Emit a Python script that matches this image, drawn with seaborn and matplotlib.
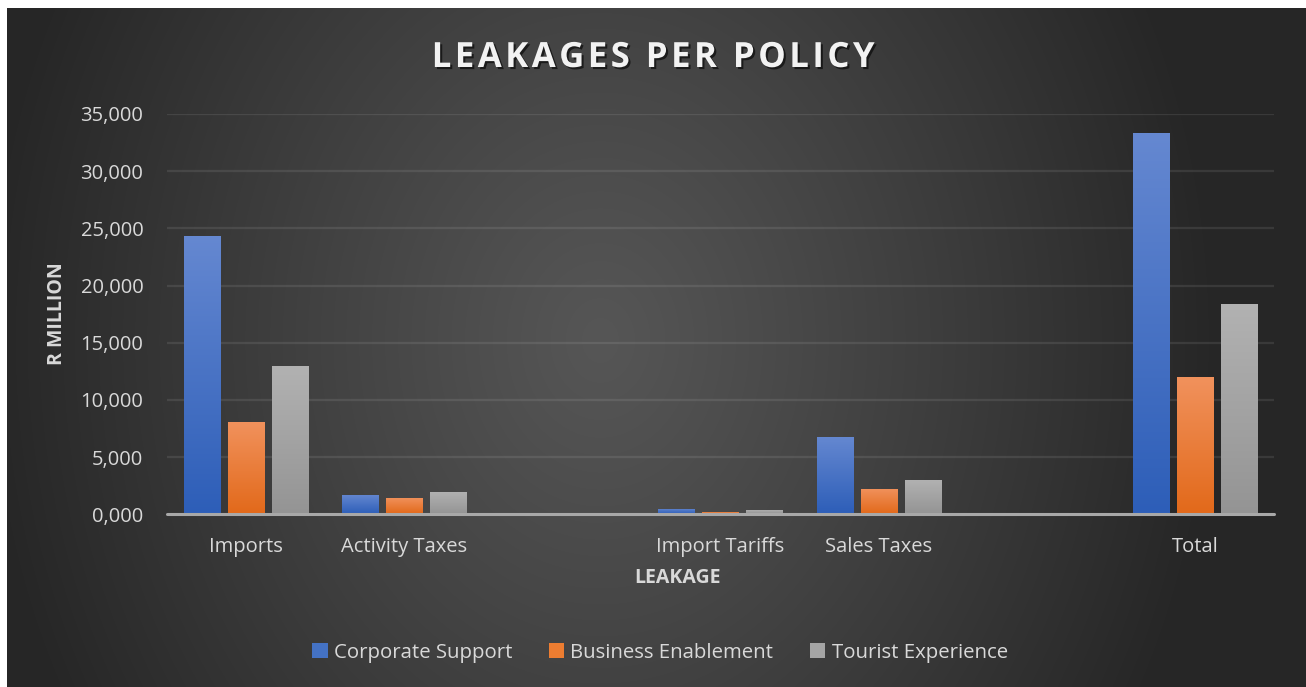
import numpy as np
import pandas as pd
import matplotlib
matplotlib.use("Agg")
import matplotlib.pyplot as plt
import matplotlib.patheffects as pe
from matplotlib.colors import LinearSegmentedColormap
from matplotlib.patches import Patch
import seaborn as sns

# ---- data (R million) ----
categories = ["Imports", "Activity Taxes", "Import Tariffs", "Sales Taxes", "Total"]
corporate_support = [24300, 1690, 460, 6760, 33300]
business_enablement = [8070, 1420, 230, 2210, 12000]
tourist_experience = [12960, 1950, 380, 3000, 18380]
policies = ["Corporate Support", "Business Enablement", "Tourist Experience"]
# category slots on the x axis, blank slots keep the spacing between groups
slot_order = ["Imports", "Activity Taxes", "", "Import Tariffs", "Sales Taxes", " ", "Total"]
ytick_values = [0, 5000, 10000, 15000, 20000, 25000, 30000, 35000]
ytick_labels = ["0,000", "5,000", "10,000", "15,000", "20,000", "25,000", "30,000", "35,000"]
title = "LEAKAGES PER POLICY"

df = pd.DataFrame({
    "Leakage": categories * 3,
    "Policy": [p for p in policies for _ in categories],
    "Value": corporate_support + business_enablement + tourist_experience,
})

base_colors = ["#4472c4", "#ed7d31", "#a5a5a5"]
grad_colors = [("#2d5eb8", "#6588d1"), ("#e2691a", "#f1925d"), ("#949494", "#b2b2b2")]

sns.set_theme(style="white")
plt.rcParams["font.family"] = ["Open Sans", "DejaVu Sans"]

W, H = 1306, 687
fig = plt.figure(figsize=(W / 100, H / 100), dpi=100, facecolor="white")

# dark radial-gradient backdrop
bg = fig.add_axes([7 / W, 0, (W - 7) / W, (H - 8) / H], zorder=-10)
bg.set_facecolor("#262626")
yy, xx = np.mgrid[8:H, 7:W]
r = np.sqrt(((xx - 600) / 620.0) ** 2 + ((yy - 340) / 760.0) ** 2)
r = np.clip(r, 0, 1)
level = (86 - (86 - 38) * r ** 1.1) / 255.0
img = np.dstack([level, level, level])
bg.imshow(img, aspect="auto", interpolation="bilinear", extent=[0, 1, 0, 1])
bg.set_xlim(0, 1)
bg.set_ylim(0, 1)
bg.set_axis_off()

# plot area
x0, x1 = 167, 1274
y_top, y_base = 114, 514.3
ax = fig.add_axes([x0 / W, (H - y_base) / H, (x1 - x0) / W, (y_base - y_top) / H])
ax.set_facecolor("none")

sns.barplot(data=df, x="Leakage", y="Value", hue="Policy", order=slot_order,
            hue_order=policies, palette=base_colors, width=0.835, gap=0.18,
            saturation=1, legend=False, errorbar=None, ax=ax, zorder=3)

# vertical colour gradient inside each bar, plus a soft shadow
for cont, (c_lo, c_hi) in zip(ax.containers, grad_colors):
    cmap = LinearSegmentedColormap.from_list("g", [c_lo, c_hi])
    for bar in cont:
        h = bar.get_height()
        if not np.isfinite(h) or h <= 0:
            continue
        bx, bw = bar.get_x(), bar.get_width()
        bar.set_path_effects([pe.SimplePatchShadow(offset=(0, 0), shadow_rgbFace="black", alpha=0.25, rho=1.0),
                              pe.Normal()])
        bar.set_edgecolor("none")
        im = ax.imshow(np.linspace(0, 1, 256).reshape(-1, 1), extent=[bx, bx + bw, 0, h],
                       origin="lower", aspect="auto", cmap=cmap, zorder=3.5,
                       interpolation="bilinear")
        im.set_clip_path(bar)

ax.set_xlim(-0.5, len(slot_order) - 0.5)
ax.set_ylim(0, 35000)

# gridlines and baseline
for v in ytick_values[1:]:
    ax.axhline(v, color="#ffffff", alpha=0.09, lw=1.6, zorder=1)
ax.axhline(0, color="#a8a8a8", lw=2.2, zorder=5, clip_on=False)

for s in ax.spines.values():
    s.set_visible(False)
ax.set_yticks(ytick_values)
ax.set_yticklabels(ytick_labels)
ax.tick_params(axis="y", length=0, pad=17, labelsize=14.5, labelcolor="#d9d9d9")
ax.tick_params(axis="x", length=0, pad=16, labelsize=14.5, labelcolor="#d9d9d9")
ax.grid(False)

ax.set_xlabel("LEAKAGE", fontsize=14, fontweight="bold", color="#d9d9d9")
ax.xaxis.set_label_coords((678 - x0) / (x1 - x0), -(578 - y_base) / (y_base - y_top))
ax.xaxis.label.set_va("center")
ax.set_ylabel("R MILLION", fontsize=14, fontweight="bold", color="#d9d9d9")
ax.yaxis.set_label_coords((57 - x0) / (x1 - x0), (y_base - 314) / (y_base - y_top))
ax.yaxis.label.set_va("center")

# letter-spaced title with a drop shadow
fig.text(653.5 / W, 1 - 58 / H, "\u200a".join(title), ha="center", va="center",
         fontsize=25, fontweight="bold", color="#f2f2f2",
         path_effects=[pe.withSimplePatchShadow(offset=(1.5, -1.5), shadow_rgbFace="black", alpha=0.6)])

handles = [Patch(facecolor=c, edgecolor="none") for c in base_colors]
fig.legend(handles, policies, loc="center", bbox_to_anchor=(660 / W, 1 - 653 / H),
           ncol=3, frameon=False, fontsize=14.7, labelcolor="#d9d9d9",
           handlelength=0.75, handleheight=0.75, handletextpad=0.3, columnspacing=1.8)

fig.savefig("out.png", dpi=100, facecolor=fig.get_facecolor())
